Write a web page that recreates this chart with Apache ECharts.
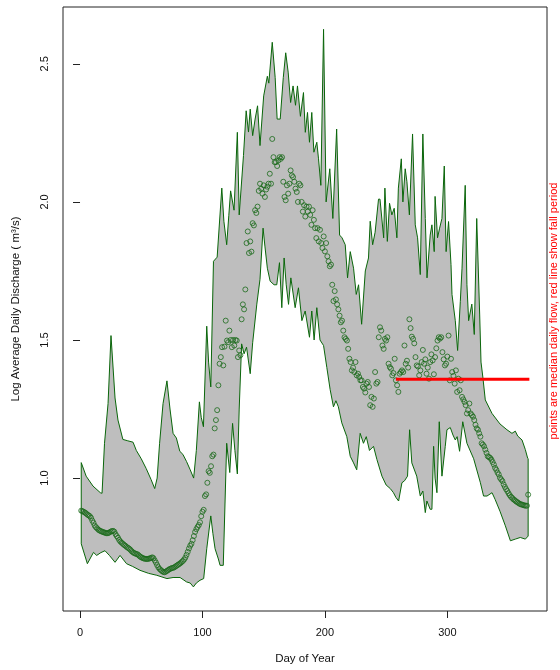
<!DOCTYPE html>
<html>
<head>
<meta charset="utf-8">
<script src="https://cdn.jsdelivr.net/npm/echarts@6/dist/echarts.min.js"></script>
<style>html,body{margin:0;padding:0;background:#fff}#c{width:560px;height:670px}</style>
</head>
<body>
<div id="c"></div>
<script>
// Upper envelope (daily maximum) [day, log discharge]
const upperBound = [[1,1.056],[5,1.007],[10.6,0.971],[16.6,0.947],[18,0.945],[20,1.126],[22.9,1.27],[25.3,1.516],[28.6,1.29],[31,1.21],[35,1.14],[39,1.135],[43.3,1.13],[46,1.10],[50,1.07],[54,1.035],[58,0.995],[61,0.962],[63,1.00],[65,1.126],[67.8,1.27],[71,1.352],[73.5,1.25],[76,1.162],[78.7,1.145],[81.5,1.097],[84,1.086],[87,1.06],[90,1.03],[92.8,1.0],[95,1.10],[97.5,1.276],[99,1.22],[100.8,1.186],[103.5,1.55],[105,1.42],[106.8,1.33],[109,1.785],[112,1.80],[115.8,2.05],[117.5,1.93],[119.8,1.845],[121.5,1.95],[123,2.04],[125.8,1.97],[128.5,2.252],[130,1.953],[133.5,2.168],[135.7,2.33],[137.6,2.253],[139,2.336],[141,2.24],[143,2.30],[145,2.348],[147,2.204],[150,2.384],[153,2.455],[154.2,2.43],[157,2.578],[159.4,2.45],[161,2.30],[163.5,2.30],[166,2.45],[168,2.54],[170,2.47],[172,2.36],[174,2.42],[176,2.35],[177.6,2.42],[180,2.31],[182.5,2.396],[184,2.252],[185.8,2.324],[187.4,2.216],[189.3,2.324],[191,2.18],[193.4,2.216],[194.8,2.156],[196.7,2.06],[198.9,2.625],[201,2.0],[204,2.12],[206.5,1.94],[209.6,2.264],[212,1.88],[214,1.87],[216.6,1.845],[218.5,1.725],[220.7,1.82],[223.4,1.76],[225.6,1.665],[227.5,1.70],[230,1.557],[233,1.75],[235.6,1.797],[237,1.93],[239,1.845],[241,1.89],[243.8,2.01],[245,2.01],[248,1.87],[249,2.05],[251,1.857],[252.8,1.995],[254.7,1.953],[256.6,1.977],[258.8,1.87],[260,2.05],[262.4,2.156],[263.7,2.0],[265.6,2.12],[267,2.073],[269,1.953],[271.6,2.246],[273.8,1.917],[275.7,1.87],[277.9,1.737],[280,2.246],[282,1.94],[283.4,1.725],[286,1.88],[287.4,1.917],[289.3,1.82],[290,2.02],[292,1.87],[293.7,1.905],[295.6,1.94],[297.5,2.13],[299,1.82],[301,1.929],[303,1.773],[303.8,1.665],[306.5,1.57],[308.4,1.462],[310.6,1.64],[312,1.76],[314.6,2.06],[316,1.70],[317.4,1.57],[320,1.63],[322,1.52],[324,1.94],[326.4,1.594],[327.5,1.42],[329,1.366],[331,1.283],[336.5,1.234],[343,1.196],[348.7,1.175],[352.8,1.162],[355.5,1.17],[357.5,1.152],[361,1.138],[363.7,1.103],[365.6,1.072],[366,1.07]];

// Lower envelope (daily minimum) [day, log discharge]
const lowerBound = [[1,0.762],[6,0.69],[11,0.731],[13.6,0.72],[17,0.73],[20.4,0.737],[24,0.72],[28.6,0.695],[32.7,0.72],[38,0.69],[43,0.68],[49,0.666],[56,0.655],[62.7,0.648],[71,0.636],[76,0.64],[81.7,0.64],[87,0.624],[90,0.62],[92.6,0.606],[95,0.62],[98,0.63],[101,0.636],[103.5,0.744],[106.8,0.863],[108.5,0.80],[110.3,0.744],[113,0.707],[114.4,0.684],[117,0.684],[119.8,1.126],[122.3,1.02],[124.6,1.198],[126.5,1.10],[128.5,1.015],[130,1.25],[132,1.486],[134,1.45],[136,1.474],[139,1.378],[141,1.49],[144.4,1.63],[147,1.72],[149.5,1.905],[151,1.84],[153,1.76],[155.3,1.713],[158.5,1.70],[160.7,1.70],[162.9,1.78],[164.8,1.617],[166.7,1.797],[168.4,1.70],[170.3,1.629],[172.2,1.725],[175.7,1.617],[178.4,1.689],[181.2,1.57],[183.9,1.605],[187.4,1.51],[189.3,1.605],[191.2,1.50],[193.4,1.617],[196,1.50],[198.9,1.48],[201.6,1.40],[204.3,1.32],[207,1.258],[209,1.28],[211,1.258],[213.8,1.20],[217.9,1.15],[220.7,1.079],[223.4,1.055],[226,1.03],[228.8,1.162],[231.5,1.126],[233.8,1.15],[236.4,1.10],[239.7,1.115],[242.5,1.067],[246.6,1.007],[250,0.975],[253.4,0.962],[256,0.947],[258,0.93],[260.2,0.917],[262.9,0.983],[265,0.99],[267.5,1.007],[269.2,1.175],[271,1.055],[275,1.007],[277.9,0.935],[280,0.953],[282,0.875],[283.3,0.917],[286,0.887],[287.4,0.887],[288.8,1.115],[290,1.0],[291.5,0.947],[293.4,1.204],[295.6,1.007],[298.3,1.115],[299.7,1.175],[302.4,1.183],[304.6,1.156],[306.5,1.138],[308,1.15],[310,1.097],[312.6,1.204],[316,1.126],[321.5,1.07],[327,0.983],[329.6,0.935],[332.4,0.935],[336.5,0.947],[339,0.923],[343,0.88],[347.4,0.827],[351.5,0.773],[355.5,0.779],[359.6,0.785],[363.7,0.779],[366,0.79]];

// Median daily flow, days 1..366
const medianFlow = [
0.882,0.880,0.878,0.875,0.872,0.868,0.865,0.862,0.856,0.846,
0.838,0.828,0.822,0.818,0.813,0.810,0.808,0.806,0.804,0.803,
0.801,0.800,0.801,0.803,0.806,0.808,0.809,0.806,0.797,0.790,
0.784,0.776,0.770,0.766,0.762,0.758,0.755,0.751,0.748,0.745,
0.741,0.736,0.732,0.729,0.727,0.725,0.724,0.720,0.716,0.713,
0.711,0.709,0.708,0.707,0.707,0.708,0.709,0.711,0.713,0.710,
0.702,0.694,0.685,0.677,0.671,0.667,0.663,0.660,0.659,0.661,
0.664,0.667,0.670,0.672,0.674,0.675,0.677,0.680,0.683,0.686,
0.689,0.692,0.696,0.700,0.705,0.712,0.722,0.733,0.745,0.755,
0.762,0.775,0.790,0.805,0.815,0.823,0.830,0.840,0.862,0.878,
0.885,0.935,0.941,0.983,1.025,1.019,1.043,1.079,1.085,1.180,
1.210,1.246,1.336,1.414,1.438,1.474,1.408,1.476,1.570,1.498,
1.492,1.534,1.500,1.474,1.500,1.480,1.500,1.498,1.438,1.462,
1.445,1.575,1.629,1.611,1.683,1.851,1.893,1.815,1.857,1.820,
1.923,1.915,1.970,1.960,1.983,2.040,2.066,2.048,2.030,2.060,
2.018,2.045,2.055,2.066,2.102,2.066,2.228,2.162,2.144,2.144,
2.130,2.150,2.162,2.156,2.162,2.073,2.018,2.006,2.060,2.030,
2.066,2.114,2.096,2.090,2.073,2.048,2.036,2.000,2.066,2.060,
2.000,1.965,1.988,1.947,1.983,1.965,1.983,1.953,1.917,1.970,
1.935,1.905,1.869,1.905,1.857,1.899,1.851,1.833,1.875,1.821,
1.851,1.803,1.785,1.767,1.773,1.700,1.641,1.677,1.647,1.629,
1.611,1.588,1.564,1.570,1.534,1.510,1.504,1.498,1.468,1.432,
1.420,1.390,1.400,1.384,1.420,1.372,1.378,1.366,1.354,1.354,
1.330,1.324,1.310,1.342,1.348,1.330,1.264,1.294,1.258,1.288,
1.384,1.342,1.348,1.510,1.546,1.534,1.480,1.468,1.504,1.498,
1.510,1.414,1.402,1.396,1.372,1.380,1.432,1.354,1.336,1.312,
1.378,1.384,1.390,1.384,1.480,1.414,1.425,1.400,1.575,1.543,
1.512,1.504,1.488,1.438,1.408,1.404,1.372,1.390,1.420,1.464,
1.414,1.430,1.378,1.400,1.360,1.420,1.448,1.426,1.376,1.438,
1.470,1.498,1.510,1.505,1.510,1.456,1.430,1.408,1.414,1.440,
1.516,1.354,1.432,1.384,1.370,1.342,1.390,1.312,1.360,1.318,
1.354,1.294,1.285,1.276,1.264,1.234,1.246,1.270,1.234,1.228,
1.222,1.210,1.193,1.180,1.175,1.162,1.150,1.126,1.121,1.115,
1.103,1.091,1.079,1.076,1.073,1.067,1.058,1.049,1.037,1.030,
1.020,1.013,1.001,0.995,0.989,0.977,0.968,0.960,0.953,0.945,
0.938,0.932,0.928,0.923,0.920,0.916,0.913,0.910,0.907,0.905,
0.904,0.902,0.901,0.900,0.900,0.940];

// Fall period reference line
const fallPeriod = [[258,1.358],[367,1.358]];

const xTicks = [0,100,200,300];
const yTicks = [1.0,1.5,2.0,2.5];

const FONT = 'Liberation Sans, Arial, Helvetica, sans-serif';
const chart = echarts.init(document.getElementById('c'), null, {renderer:'canvas'});
chart.setOption({
  animation:false,
  backgroundColor:'#ffffff',
  grid:{left:63, top:7, width:484, height:609, show:true, borderColor:'#222', borderWidth:1, backgroundColor:'transparent'},
  xAxis:{
    type:'value', min:-13.9, max:381.4,
    splitLine:{show:false},
    axisLine:{show:false},
    axisTick:{show:true, customValues:xTicks, length:7, inside:false, lineStyle:{color:'#222'}},
    axisLabel:{customValues:xTicks, margin:16, fontSize:11, color:'#111', fontFamily:FONT},
    name:'Day of Year', nameLocation:'middle', nameGap:42,
    nameTextStyle:{fontSize:11.5, color:'#111', fontFamily:FONT}
  },
  yAxis:{
    type:'value', min:0.5187, max:2.7058,
    splitLine:{show:false},
    axisLine:{show:false},
    axisTick:{show:true, customValues:yTicks, length:7, inside:false, lineStyle:{color:'#222'}},
    axisLabel:{customValues:yTicks, rotate:90, margin:13, fontSize:11, color:'#111', fontFamily:FONT,
      formatter:function(v){return Number(v).toFixed(1);}},
    name:'Log Average Daily Discharge ( m³/s)', nameLocation:'middle', nameGap:41, nameRotate:90,
    nameTextStyle:{fontSize:11.5, color:'#111', fontFamily:FONT}
  },
  graphic:[{
    type:'text', x:553.5, y:311, rotation:Math.PI/2, silent:true,
    style:{text:'points are median daily flow, red line show fall period', fill:'#ff0000',
      font:'11px Liberation Sans, Arial, sans-serif', align:'center', verticalAlign:'middle'}
  }],
  series:[
    {
      type:'custom', silent:true, z:1,
      data:[[0,1]],
      renderItem:function(params, api){
        const pts = upperBound.map(function(p){return api.coord(p);})
          .concat(lowerBound.slice().reverse().map(function(p){return api.coord(p);}));
        return {type:'polygon', shape:{points:pts}, style:{fill:'#bebebe', stroke:'#0a660a', lineWidth:1}};
      }
    },
    {
      type:'scatter', z:3, silent:true,
      symbol:'circle', symbolSize:5,
      itemStyle:{color:'rgba(0,0,0,0)', borderColor:'#1a6a1a', borderWidth:1},
      data:medianFlow.map(function(v,i){return [i+1, v];})
    },
    {
      type:'line', z:4, silent:true, symbol:'none',
      lineStyle:{color:'#ff0000', width:3},
      data:fallPeriod
    }
  ]
});
</script>
</body>
</html>
